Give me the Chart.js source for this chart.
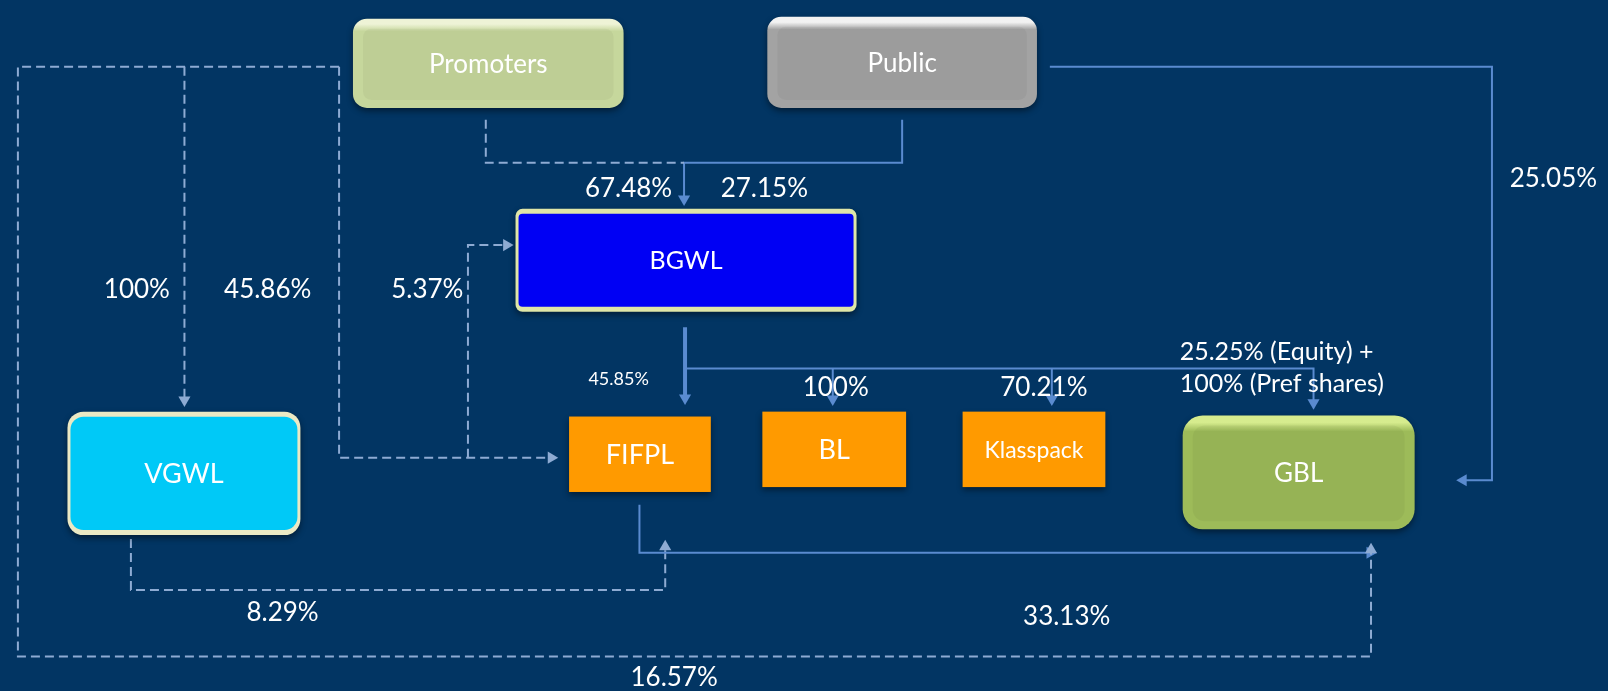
<!DOCTYPE html>
<html>
<head>
<meta charset="utf-8">
<script src="https://cdn.jsdelivr.net/npm/chart.js@4/dist/chart.umd.min.js"></script>
<style>
  html, body { margin: 0; padding: 0; background: #023563; }
  #wrap { width: 1608px; height: 691px; position: relative; }
</style>
</head>
<body>
<div id="wrap"><canvas id="holding"></canvas></div>
<script>
// entities and the stakes between them
const entityNames = ['Promoters', 'Public', 'BGWL', 'VGWL', 'FIFPL', 'BL', 'Klasspack', 'GBL'];
const stakeLabels = ['67.48%', '27.15%', '100%', '45.86%', '5.37%', '45.85%', '100%', '70.21%',
    '25.25% (Equity) +|100% (Pref shares)', '25.05%', '8.29%', '33.13%', '16.57%'];

// layout, in canvas units (x right, y down)
const boxLayout = {
    Promoters: [349, 12, 622, 103],
    Public: [767, 10, 1039, 103],
    BGWL: [513, 206, 857, 311],
    VGWL: [61, 413, 296, 539],
    FIFPL: [567, 418, 710, 495],
    BL: [762, 413, 907, 490],
    Klasspack: [964, 413, 1108, 490],
    GBL: [1186, 417, 1420, 533]
};
const boxStyle = {
    Promoters: { kind: 'bevel', fill: '#c6d79c', light: '#eef3d6', radius: 14, font: 26 },
    Public: { kind: 'bevel', fill: '#a3a3a3', light: '#f2f2f2', radius: 14, font: 26 },
    BGWL: { kind: 'framed', fill: '#0000f4', edge: '#dfe6a8', radius: 7, font: 25 },
    VGWL: { kind: 'framed', fill: '#00c9f7', edge: '#ebe9c4', radius: 16, font: 27 },
    FIFPL: { kind: 'flat', fill: '#ff9a00', font: 27 },
    BL: { kind: 'flat', fill: '#ff9a00', font: 27 },
    Klasspack: { kind: 'flat', fill: '#ff9a00', font: 23 },
    GBL: { kind: 'bevel', fill: '#9dbb59', light: '#d6ec8e', radius: 20, font: 26 }
};
const labelLayout = [
    [627, 185, 26, 'center'], [764, 185, 26, 'center'],
    [131, 288, 26, 'center'], [263, 288, 26, 'center'], [424, 288, 26, 'center'],
    [617, 380, 18, 'center'], [836, 388, 26, 'center'], [1046, 388, 26, 'center'],
    [1183, 352, 25, 'left'], [1560, 175, 26, 'center'],
    [278, 618, 26, 'center'], [1069, 622, 26, 'center'], [673, 684, 26, 'center']
];

const SOLID = '#5a8bd0';
const DASHED = '#8eabd3';
const ARROW = 7;

// connector routes; last point is where the arrow tip lands
const routes = [
    { pts: [[483, 115], [483, 159], [683, 159]], dash: true },
    { pts: [[903, 115], [903, 159], [683, 159], [683, 203]], arrow: 'down' },
    { pts: [[1052, 61], [1498, 61], [1498, 483], [1462, 483]], arrow: 'left' },
    { pts: [[335, 61], [11, 61], [11, 663], [1376, 663], [1376, 547]], dash: true, arrow: 'up' },
    { pts: [[179, 61], [179, 408]], dash: true, arrow: 'down' },
    { pts: [[335, 61], [335, 460], [556, 460]], dash: true, arrow: 'right' },
    { pts: [[465, 460], [465, 243], [511, 243]], dash: true, arrow: 'right' },
    { pts: [[684, 327], [684, 406]], arrow: 'down', width: 4 },
    { pts: [[684, 369], [1318, 369], [1318, 411]], arrow: 'down' },
    { pts: [[833, 369], [833, 407]], arrow: 'down' },
    { pts: [[1054, 369], [1054, 407]], arrow: 'down' },
    { pts: [[638, 508], [638, 557], [1382, 557]], arrow: 'right' },
    { pts: [[125, 543], [125, 595], [664, 595], [664, 544]], dash: true, arrow: 'up' }
];

const dirs = { up: [0, -1, 0], down: [0, 1, 180], right: [1, 0, 90], left: [-1, 0, 270] };

const datasets = routes.map(r => {
    const pts = r.pts.map(p => ({ x: p[0], y: p[1] }));
    const radius = pts.map(() => 0);
    let rot = 0;
    if (r.arrow) {
        const d = dirs[r.arrow];
        const last = pts[pts.length - 1];
        // triangle is centred on the point, so pull it back so the tip meets the target
        last.x -= d[0] * ARROW;
        last.y -= d[1] * ARROW;
        radius[radius.length - 1] = ARROW;
        rot = d[2];
    }
    const color = r.dash ? DASHED : SOLID;
    return {
        data: pts,
        showLine: true,
        borderColor: color,
        borderWidth: r.width || 2,
        borderDash: r.dash ? [9, 5] : [],
        pointRadius: radius,
        pointHoverRadius: radius,
        pointStyle: 'triangle',
        pointRotation: rot,
        pointBackgroundColor: color,
        pointBorderColor: color,
        pointBorderWidth: 0,
        tension: 0
    };
});

function roundRect(ctx, x0, y0, x1, y1, r) {
    ctx.beginPath();
    ctx.roundRect(x0, y0, x1 - x0, y1 - y0, r);
}

const boxPlugin = {
    id: 'boxes',
    afterDatasetsDraw(chart) {
        const { ctx, scales: { x, y } } = chart;
        ctx.save();
        entityNames.forEach(name => {
            const b = boxLayout[name];
            const s = boxStyle[name];
            const x0 = x.getPixelForValue(b[0]), x1 = x.getPixelForValue(b[2]);
            const y0 = y.getPixelForValue(b[1]), y1 = y.getPixelForValue(b[3]);
            ctx.save();
            ctx.shadowColor = 'rgba(0,0,0,0.45)';
            ctx.shadowBlur = 6;
            ctx.shadowOffsetY = 3;
            if (s.kind === 'flat') {
                ctx.fillStyle = s.fill;
                ctx.fillRect(x0, y0, x1 - x0, y1 - y0);
                ctx.restore();
            } else if (s.kind === 'framed') {
                roundRect(ctx, x0, y0, x1, y1, s.radius);
                ctx.fillStyle = s.edge;
                ctx.fill();
                ctx.restore();
                roundRect(ctx, x0 + 3, y0 + 5, x1 - 3, y1 - 5, Math.max(s.radius - 3, 2));
                ctx.fillStyle = s.fill;
                ctx.fill();
            } else {
                roundRect(ctx, x0, y0, x1, y1, s.radius);
                const g = ctx.createLinearGradient(0, y0, 0, y1);
                g.addColorStop(0, s.light);
                g.addColorStop(0.06, s.light);
                g.addColorStop(0.14, s.fill);
                g.addColorStop(1, s.fill);
                ctx.fillStyle = g;
                ctx.fill();
                ctx.restore();
                // soft bevel on the inner face
                roundRect(ctx, x0 + 10, y0 + 10, x1 - 10, y1 - 8, s.radius * 0.6);
                ctx.fillStyle = 'rgba(0,0,0,0.04)';
                ctx.fill();
            }
            ctx.fillStyle = '#ffffff';
            ctx.font = s.font + 'px Lato';
            ctx.textAlign = 'center';
            ctx.textBaseline = 'middle';
            ctx.fillText(name, (x0 + x1) / 2, (y0 + y1) / 2 + 1);
        });
        ctx.restore();
    },
    afterDraw(chart) {
        const { ctx, scales: { x, y } } = chart;
        ctx.save();
        ctx.fillStyle = '#ffffff';
        ctx.textBaseline = 'middle';
        stakeLabels.forEach((text, i) => {
            const l = labelLayout[i];
            ctx.font = l[2] + 'px Lato';
            ctx.textAlign = l[3];
            text.split('|').forEach((line, k) => {
                ctx.fillText(line, x.getPixelForValue(l[0]), y.getPixelForValue(l[1] + k * 33));
            });
        });
        ctx.restore();
    }
};

new Chart(document.getElementById('holding'), {
    type: 'scatter',
    data: { datasets },
    options: {
        responsive: true,
        maintainAspectRatio: false,
        animation: false,
        layout: { padding: 0 },
        scales: {
            x: { type: 'linear', min: 0, max: 1608, display: false },
            y: { type: 'linear', min: 0, max: 691, reverse: true, display: false }
        },
        plugins: {
            legend: { display: false },
            tooltip: { enabled: false }
        }
    },
    plugins: [boxPlugin]
});
</script>
</body>
</html>
